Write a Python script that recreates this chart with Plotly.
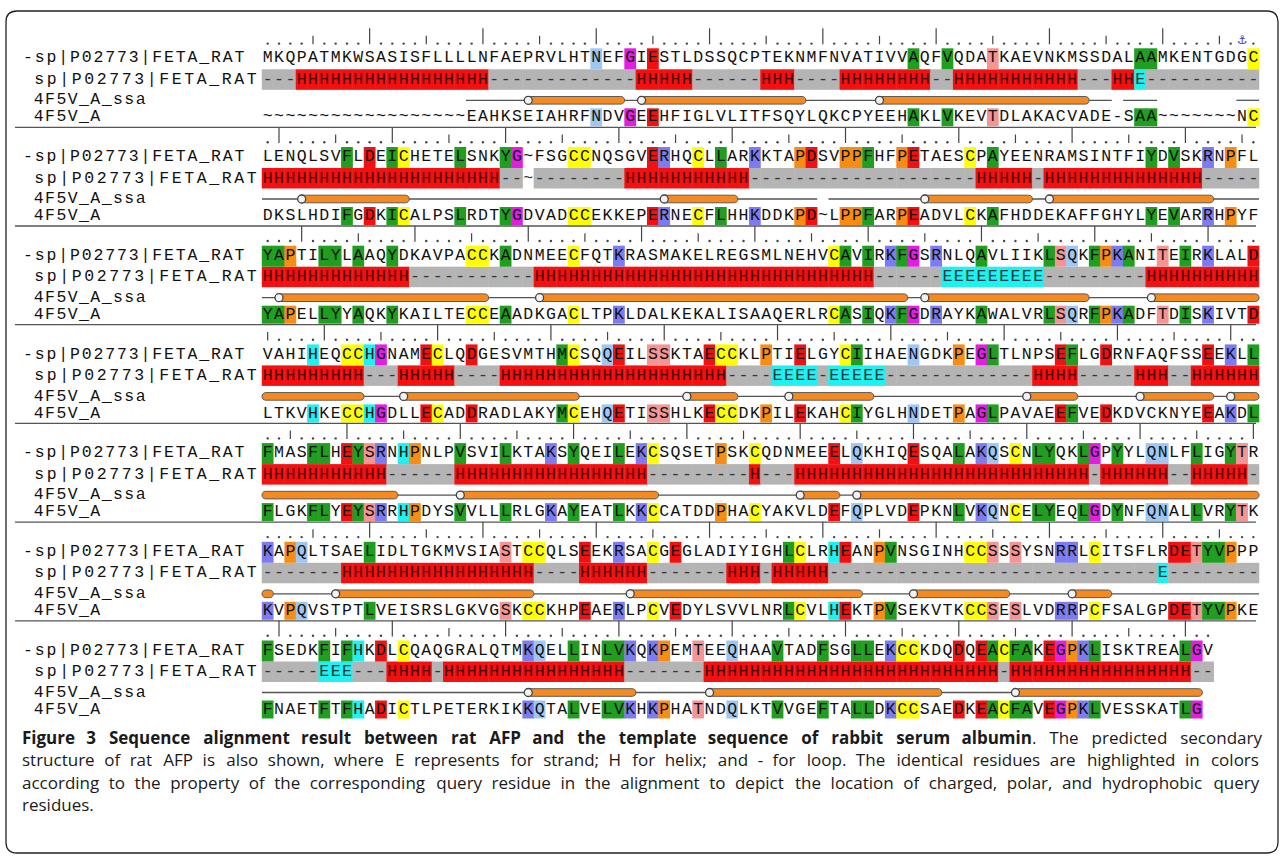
import plotly.graph_objects as go

# ---------------- data ----------------
query_label = "-sp|P02773|FETA_RAT"
ss_label = "sp|P02773|FETA_RAT"
ssa_label = "4F5V_A_ssa"
template_label = "4F5V_A"

query_rows = [
    "MKQPATMKWSASISFLLLLNFAEPRVLHTNEFGIESTLDSSQCPTEKNMFNVATIVVAQFVQDATKAEVNKMSSDALAAMKENTGDGC",
    "LENQLSVFLDEICHETELSNKYG~FSGCCNQSGVERHQCLLARKKTAPDSVPPFHFPETAESCPAYEENRAMSINTFIYDVSKRNPFL",
    "YAPTILYLAAQYDKAVPACCKADNMEECFQTKRASMAKELREGSMLNEHVCAVIRKFGSRNLQAVLIIKLSQKFPKANITEIRKLALD",
    "VAHIHEQCCHGNAMECLQDGESVMTHMCSQQEILSSKTAECCKLPTIELGYCIIHAENGDKPEGLTLNPSEFLGDRNFAQFSSEEKLL",
    "FMASFLHEYSRNHPNLPVSVILKTAKSYQEILEKCSQSETPSKCQDNMEEELQKHIQESQALAKQSCNLYQKLGPYYLQNLFLIGYTR",
    "KAPQLTSAELIDLTGKMVSIASTCCQLSEEKRSACGEGLADIYIGHLCLRHEANPVNSGINHCCSSSYSNRRLCITSFLRDETYVPPP",
    "FSEDKFIFHKDLCQAQGRALQTMKQELLINLVKQKPEMTEEQHAAVTADFSGLLEKCCKDQDQEACFAKEGPKLISKTREALGV",
]
template_rows = [
    "~~~~~~~~~~~~~~~~~~EAHKSEIAHRFNDVGEEHFIGLVLITFSQYLQKCPYEEHAKLVKEVTDLAKACVADE-SAA~~~~~~~NC",
    "DKSLHDIFGDKICALPSLRDTYGDVADCCEKKEPERNECFLHHKDDKPD~LPPFARPEADVLCKAFHDDEKAFFGHYLYEVARRHPYF",
    "YAPELLYYAQKYKAILTECCEAADKGACLTPKLDALKEKALISAAQERLRCASIQKFGDRAYKAWALVRLSQRFPKADFTDISKIVTD",
    "LTKVHKECCHGDLLECADDRADLAKYMCEHQETISSHLKECCDKPILEKAHCIYGLHNDETPAGLPAVAEEFVEDKDVCKNYEEAKDL",
    "FLGKFLYEYSRRHPDYSVVLLLRLGKAYEATLKKCCATDDPHACYAKVLDEFQPLVDEPKNLVKQNCELYEQLGDYNFQNALLVRYTK",
    "KVPQVSTPTLVEISRSLGKVGSKCCKHPEAERLPCVEDYLSVVLNRLCVLHEKTPVSEKVTKCCSESLVDRRPCFSALGPDETYVPKE",
    "FNAETFTFHADICTLPETERKIKKQTALVELVKHKPHATNDQLKTVVGEFTALLDKCCSAEDKEACFAVEGPKLVESSKATLG",
]
# predicted secondary structure of the query (run-length: symbol, count)
ss_runs = [
    [("-", 3), ("H", 17), ("-", 13), ("H", 5), ("-", 6), ("H", 3), ("-", 4), ("H", 8), ("-", 2), ("H", 11), ("-", 3), ("H", 2), ("E", 1), ("-", 10)],
    [("H", 21), ("-", 2), ("~", 1), ("-", 8), ("H", 11), ("-", 20), ("H", 5), ("-", 1), ("H", 14), ("-", 5)],
    [("H", 13), ("-", 11), ("H", 30), ("-", 6), ("E", 9), ("-", 9), ("H", 10)],
    [("H", 9), ("-", 3), ("H", 5), ("-", 4), ("H", 20), ("-", 4), ("E", 4), ("-", 1), ("E", 5), ("-", 13), ("H", 4), ("-", 5), ("H", 3), ("-", 2), ("H", 6)],
    [("H", 11), ("-", 6), ("H", 17), ("-", 9), ("H", 1), ("-", 3), ("H", 26), ("-", 1), ("H", 6), ("-", 2), ("H", 5), ("-", 1)],
    [("-", 7), ("H", 17), ("-", 4), ("H", 6), ("-", 7), ("H", 3), ("-", 1), ("H", 5), ("-", 29), ("E", 1), ("-", 8)],
    [("-", 5), ("E", 3), ("-", 3), ("H", 4), ("-", 1), ("H", 16), ("-", 7), ("H", 26), ("-", 1), ("H", 16), ("-", 2)],
]
# template (4F5V_A) secondary structure: ' ' none, '-' coil, 'H' helix
ssa_runs = [
    [(" ", 18), ("-", 5), ("H", 9), ("-", 1), ("H", 15), ("-", 6), ("H", 19), ("-", 2), (" ", 1), ("-", 3), (" ", 7), ("-", 2)],
    [("-", 3), ("H", 10), ("-", 22), ("H", 7), ("-", 7), (" ", 1), ("-", 8), ("H", 10), ("-", 1), ("H", 15), ("-", 4)],
    [("-", 1), ("H", 19), ("-", 4), ("H", 33), ("-", 1), ("H", 15), ("-", 5), ("H", 10)],
    [("H", 9), ("-", 3), ("H", 16), ("-", 9), ("H", 5), ("-", 4), ("H", 8), ("-", 13), ("H", 5), ("-", 5), ("H", 7), ("-", 1), ("H", 3)],
    [("H", 12), ("-", 5), ("H", 18), ("-", 12), ("H", 4), ("-", 1), ("H", 36)],
    [("H", 1), ("-", 5), ("H", 18), ("-", 8), ("H", 21), ("-", 4), ("H", 9), ("-", 5), ("H", 4), ("-", 13)],
    [("-", 23), ("H", 10), ("-", 6), ("H", 21), ("-", 6), ("H", 17)],
]
anchor_block = 0
anchor_col = 87

residue_colors = {
    "AVLIMFYW": "#1f9e1f",
    "C": "#ffff00",
    "G": "#e21ee2",
    "P": "#f98c12",
    "DE": "#f21010",
    "KR": "#7c7cf0",
    "H": "#1ff0f0",
    "NQ": "#9ec8f3",
    "ST": "#f39595",
}
ss_colors = {"H": "#f21010", "E": "#1ff0f0", "-": "#b4b4b4"}

caption_lines = [
    "<b>Figure 3 Sequence alignment result between rat AFP and the template sequence of rabbit serum albumin</b>. The predicted secondary",
    "structure of rat AFP is also shown, where E represents for strand; H for helix; and - for loop. The identical residues are highlighted in colors",
    "according to the property of the corresponding query residue in the alignment to depict the location of charged, polar, and hydrophobic query",
    "residues.",
]
# extra word spacing (hair spaces) that emulates the justified caption
caption_extra_spaces = [85, 85, 66, 0]

# ---------------- layout constants ----------------
W, H = 1284, 859
CW = 11.33          # pixels per alignment column
X0 = 262.0          # left edge of column 1 (pixels)
Q0 = 58.3           # centre of first query row (pixels)
BLOCK_H = 98.7      # block pitch
COLS = 88
MONO = "Courier New, Liberation Mono, monospace"
SEQ_FONT = 16.5


def colx(px):
    return (px - X0) / CW + 0.5


def expand(runs):
    return "".join(s * n for s, n in runs)


def res_color(ch):
    for k, v in residue_colors.items():
        if ch in k:
            return v
    return None


def justify(text, extra):
    words = text.split(" ")
    gaps = len(words) - 1
    if gaps <= 0 or extra <= 0:
        return text
    out = words[0]
    for g in range(gaps):
        n = (g + 1) * extra // gaps - g * extra // gaps
        out += " " + "\u200a" * n + words[g + 1]
    return out


ss_rows = [expand(r) for r in ss_runs]
ssa_rows = [expand(r) for r in ssa_runs]

bx, bb, bh, bc = [], [], [], []
tx, ty, tt, tc = [], [], [], []
dot_x, dot_y = [], []
tick_x, tick_y = [], []
circ_x, circ_y = [], []
shapes = []

for b in range(len(query_rows)):
    q = Q0 + b * BLOCK_H
    ss_y = q + 21.4
    ssa_y = q + 42.0
    t_y = q + 59.0
    qs, ts, ss, sa = query_rows[b], template_rows[b], ss_rows[b], ssa_rows[b]

    # ruler
    for i in range(len(qs)):
        c = i + 1
        pos = b * COLS + c
        if b == anchor_block and c == anchor_col:
            continue
        if pos % 10 == 0:
            tick_x += [c, c, None]
            tick_y += [q - 30, q - 14, None]
        elif pos % 5 == 0:
            tick_x += [c, c, None]
            tick_y += [q - 22.5, q - 14, None]
        else:
            dot_x.append(c)
            dot_y.append(q - 14.7)

    # SS band
    for i, ch in enumerate(ss):
        if ch in ss_colors:
            bx.append(i + 1); bb.append(q + 11); bh.append(20.5); bc.append(ss_colors[ch])
        tx.append(i + 1); ty.append(ss_y); tt.append(ch)
        tc.append({"H": "#4a0000", "E": "#003a3a"}.get(ch, "#333333"))

    # identical residues
    for i in range(max(len(qs), len(ts))):
        a = qs[i] if i < len(qs) else " "
        t = ts[i] if i < len(ts) else " "
        if a == t and a.isalpha():
            col = res_color(a)
            bx.append(i + 1); bb.append(q - 10); bh.append(21); bc.append(col)
            bx.append(i + 1); bb.append(t_y - 9); bh.append(18); bc.append(col)
    for i, ch in enumerate(qs):
        tx.append(i + 1); ty.append(q); tt.append(ch); tc.append("#111111")
    for i, ch in enumerate(ts):
        tx.append(i + 1); ty.append(t_y); tt.append(ch); tc.append("#111111")

    # template secondary structure: coil lines
    i = 0
    while i < len(sa):
        if sa[i] == " ":
            i += 1
            continue
        j = i
        while j + 1 < len(sa) and sa[j + 1] != " ":
            j += 1
        shapes.append(dict(type="line", xref="x", yref="y", layer="below",
                           x0=i + 0.5, x1=j + 1.5, y0=ssa_y, y1=ssa_y,
                           line=dict(color="#555555", width=1.3)))
        i = j + 1
    # helices
    prev_last = ssa_rows[b - 1][-1] if b > 0 else " "
    i = 0
    hh = 3.8
    r = hh / CW
    k = 1.33 * r
    while i < len(sa):
        if sa[i] != "H":
            i += 1
            continue
        j = i
        while j + 1 < len(sa) and sa[j + 1] == "H":
            j += 1
        s, e = i + 1, j + 1
        cont = (i == 0 and prev_last == "H")
        xl = 0.5 if cont else s - r
        xr = e + 0.5
        a_ = xl + r
        b_ = xr - r
        path = (f"M {a_},{ssa_y-hh} L {b_},{ssa_y-hh} "
                f"C {b_+k},{ssa_y-hh} {b_+k},{ssa_y+hh} {b_},{ssa_y+hh} "
                f"L {a_},{ssa_y+hh} C {a_-k},{ssa_y+hh} {a_-k},{ssa_y-hh} {a_},{ssa_y-hh} Z")
        shapes.append(dict(type="path", xref="x", yref="y", layer="below", path=path,
                           fillcolor="#f58a20", line=dict(color="#5a5a5a", width=1)))
        if not cont:
            circ_x.append(s)
            circ_y.append(ssa_y)
        i = j + 1

    # block separator
    if b < len(query_rows) - 1:
        shapes.append(dict(type="line", xref="x", yref="y", x0=colx(15), x1=colx(1256),
                           y0=q + 69, y1=q + 69, line=dict(color="#555555", width=1.3)))

# labels (placed character by character)
lab_x, lab_y, lab_t = [], [], []
label_specs = [(query_label, 22, 11.75, 0.0), (ss_label, 33, 12.5, 21.4),
               (ssa_label, 33, 11.33, 42.0), (template_label, 33, 11.33, 59.0)]
for b in range(len(query_rows)):
    q = Q0 + b * BLOCK_H
    for text, left, pitch, dy in label_specs:
        for n, ch in enumerate(text):
            lab_x.append(colx(left + (n + 0.5) * pitch))
            lab_y.append(q + dy)
            lab_t.append(ch)

fig = go.Figure()
fig.add_trace(go.Bar(x=bx, y=bh, base=bb, width=1.04,
                     marker=dict(color=bc, line=dict(width=0)),
                     hoverinfo="skip", showlegend=False))
fig.add_trace(go.Scatter(x=tick_x, y=tick_y, mode="lines",
                         line=dict(color="#444444", width=1.2),
                         hoverinfo="skip", showlegend=False))
fig.add_trace(go.Scatter(x=dot_x, y=dot_y, mode="markers",
                         marker=dict(size=2.4, color="#444444"),
                         hoverinfo="skip", showlegend=False))
fig.add_trace(go.Scatter(x=tx, y=ty, text=tt, mode="text",
                         textfont=dict(family=MONO, size=SEQ_FONT, color=tc),
                         textposition="middle center",
                         hoverinfo="skip", showlegend=False))
fig.add_trace(go.Scatter(x=lab_x, y=lab_y, text=lab_t, mode="text",
                         textfont=dict(family=MONO, size=SEQ_FONT, color="#111111"),
                         textposition="middle center",
                         hoverinfo="skip", showlegend=False))
fig.add_trace(go.Scatter(x=circ_x, y=circ_y, mode="markers",
                         marker=dict(size=8, color="#f2f2f2",
                                     line=dict(color="#444444", width=1.3)),
                         hoverinfo="skip", showlegend=False))
fig.add_trace(go.Scatter(x=[anchor_col], y=[Q0 + anchor_block * BLOCK_H - 17],
                         text=["\u2693"], mode="text",
                         textfont=dict(family="DejaVu Sans", size=12, color="#3a3acc"),
                         hoverinfo="skip", showlegend=False))

# rounded frame
rr = 11
fx0, fx1, fy0, fy1 = 6, 1278, 11, 853
frame = (f"M {colx(fx0 + rr)},{fy0} L {colx(fx1 - rr)},{fy0} "
         f"Q {colx(fx1)},{fy0} {colx(fx1)},{fy0 + rr} L {colx(fx1)},{fy1 - rr} "
         f"Q {colx(fx1)},{fy1} {colx(fx1 - rr)},{fy1} L {colx(fx0 + rr)},{fy1} "
         f"Q {colx(fx0)},{fy1} {colx(fx0)},{fy1 - rr} L {colx(fx0)},{fy0 + rr} "
         f"Q {colx(fx0)},{fy0} {colx(fx0 + rr)},{fy0} Z")
shapes.append(dict(type="path", xref="x", yref="y", path=frame,
                   line=dict(color="#222222", width=1.3)))

annotations = []
for n, line in enumerate(caption_lines):
    annotations.append(dict(x=colx(20), y=737 + n * 22.6, xref="x", yref="y",
                            text=justify(line, caption_extra_spaces[n]),
                            showarrow=False, xanchor="left", yanchor="middle",
                            font=dict(family="Open Sans, Arial, sans-serif", size=17, color="#1a1a1a")))

fig.update_layout(
    width=W, height=H, autosize=False,
    margin=dict(l=0, r=0, t=0, b=0, pad=0),
    paper_bgcolor="white", plot_bgcolor="white",
    barmode="overlay",
    xaxis=dict(range=[colx(0), colx(W)], visible=False, fixedrange=True),
    yaxis=dict(range=[H, 0], visible=False, fixedrange=True),
    shapes=shapes, annotations=annotations, showlegend=False,
)

fig.write_html("out.html", config={"displayModeBar": False},
               post_script="document.body.style.margin='0';")
